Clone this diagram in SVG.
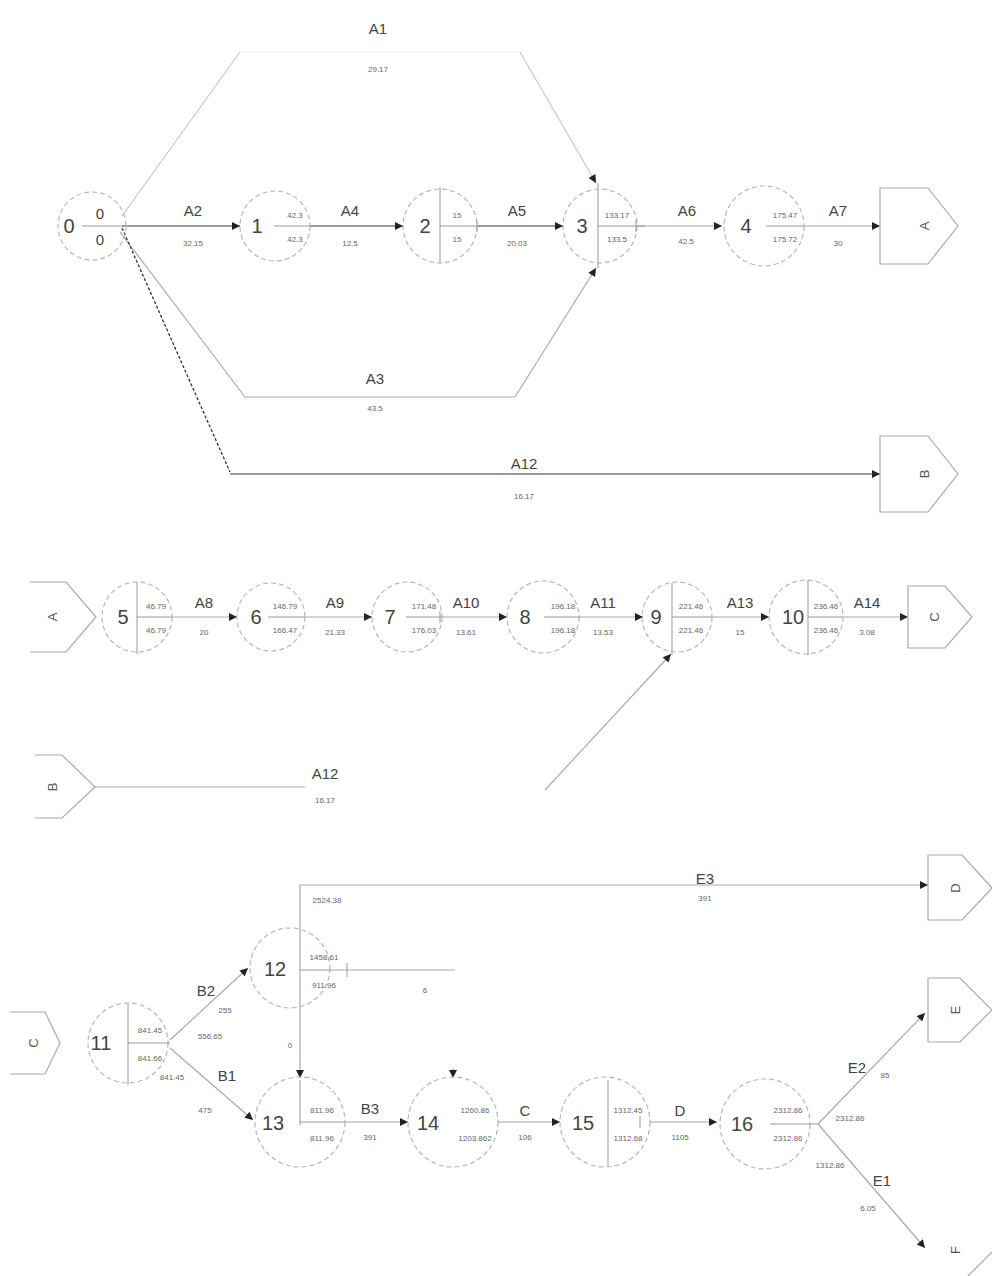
<svg xmlns="http://www.w3.org/2000/svg" width="992" height="1276" viewBox="0 0 992 1276">
<style>
text{font-family:"Liberation Sans",Arial,sans-serif;text-anchor:middle;}
.num{font-size:20px;fill:#444;}
.act{font-size:15px;fill:#444;}
.sm{font-size:8px;fill:#666;}
.circ{fill:none;stroke:#b8b8b8;stroke-width:1.2;stroke-dasharray:5 3;}
.div{fill:none;stroke:#999;stroke-width:1;}
.ln{fill:none;stroke:#aaa;stroke-width:1.2;}
.lnf{fill:none;stroke:#c8c8c8;stroke-width:1.2;}
.ln2{fill:none;stroke:#777;stroke-width:1.3;}
.conn{fill:#fff;stroke:#aaa;stroke-width:1.2;}
.ctxt{font-size:13px;fill:#555;}
</style>
<defs>
<marker id="ah" viewBox="0 0 10 10" refX="10" refY="5" markerWidth="10" markerHeight="8" markerUnits="userSpaceOnUse" orient="auto">
<path d="M0,0 L10,5 L0,10 Z" fill="#222"/>
</marker>
</defs>
<rect width="992" height="1276" fill="#fff"/>

<g id="connectors">
<!-- row 1 -->
<path class="lnf" d="M122,216 L240,52"/>
<path fill="none" stroke="#f0f0f0" stroke-width="1" d="M240,52 L520,52"/>
<path class="lnf" d="M520,52 L596,183" marker-end="url(#ah)"/>
<line class="ln2" x1="122" y1="226" x2="240" y2="226" marker-end="url(#ah)"/>
<path class="ln" d="M120,232 L245,397 L515,397 L596,268" marker-end="url(#ah)"/>
<path fill="none" stroke="#333" stroke-width="1.3" stroke-dasharray="3 2" d="M122,228 L230,472"/>
<line class="ln2" x1="230" y1="474" x2="880" y2="474" marker-end="url(#ah)"/>
<line class="ln2" x1="310" y1="226" x2="403" y2="226" marker-end="url(#ah)"/>
<line class="ln2" x1="478" y1="226" x2="563" y2="226" marker-end="url(#ah)"/>
<line class="ln" x1="637" y1="226" x2="722" y2="226" marker-end="url(#ah)"/>
<line class="ln" x1="805" y1="226" x2="880" y2="226" marker-end="url(#ah)"/>
<!-- row 2 -->
<line class="ln" x1="173" y1="617" x2="237" y2="617" marker-end="url(#ah)"/>
<line class="ln" x1="305" y1="617" x2="372" y2="617" marker-end="url(#ah)"/>
<line class="ln" x1="442" y1="617" x2="507" y2="617" marker-end="url(#ah)"/>
<line class="ln" x1="580" y1="617" x2="643" y2="617" marker-end="url(#ah)"/>
<line class="ln" x1="712" y1="617" x2="769" y2="617" marker-end="url(#ah)"/>
<line class="ln" x1="843" y1="617" x2="908" y2="617" marker-end="url(#ah)"/>
<line class="ln" x1="545" y1="790" x2="671" y2="654" marker-end="url(#ah)"/>
<!-- row 3 -->
<line class="ln" x1="95" y1="787" x2="305" y2="787"/>
<!-- row 4 -->
<line class="ln" x1="170" y1="1040" x2="248" y2="968" marker-end="url(#ah)"/>
<line class="ln" x1="170" y1="1048" x2="253" y2="1120" marker-end="url(#ah)"/>
<path class="ln" d="M300,1060 L300,885 L928,885" marker-end="url(#ah)"/>
<line class="ln" x1="300" y1="1060" x2="300" y2="1078" marker-end="url(#ah)"/>
<line class="ln" x1="453" y1="1068" x2="453" y2="1078" marker-end="url(#ah)"/>
<line class="ln" x1="330" y1="970" x2="455" y2="970"/>
<line class="ln" x1="345" y1="1122" x2="408" y2="1122" marker-end="url(#ah)"/>
<line class="ln" x1="498" y1="1122" x2="560" y2="1122" marker-end="url(#ah)"/>
<line class="ln" x1="650" y1="1122" x2="717" y2="1122" marker-end="url(#ah)"/>
<line class="ln" x1="818" y1="1124" x2="925" y2="1013" marker-end="url(#ah)"/>
<line class="ln" x1="818" y1="1124" x2="925" y2="1248" marker-end="url(#ah)"/>
</g>

<!-- activity labels -->
<g id="labels">
<text class="act" x="378" y="34">A1</text><text class="sm" x="378" y="72">29.17</text>
<text class="act" x="193" y="216">A2</text><text class="sm" x="193" y="246">32.15</text>
<text class="act" x="350" y="216">A4</text><text class="sm" x="350" y="246">12.5</text>
<text class="act" x="517" y="216">A5</text><text class="sm" x="517" y="246">20.03</text>
<text class="act" x="687" y="216">A6</text><text class="sm" x="686" y="244">42.5</text>
<text class="act" x="838" y="216">A7</text><text class="sm" x="838" y="246">30</text>
<text class="act" x="375" y="384">A3</text><text class="sm" x="375" y="411">43.5</text>
<text class="act" x="524" y="469">A12</text><text class="sm" x="524" y="499">16.17</text>
<text class="act" x="204" y="608">A8</text><text class="sm" x="204" y="635">20</text>
<text class="act" x="335" y="608">A9</text><text class="sm" x="335" y="635">21.33</text>
<text class="act" x="466" y="608">A10</text><text class="sm" x="466" y="635">13.61</text>
<text class="act" x="603" y="608">A11</text><text class="sm" x="603" y="635">13.53</text>
<text class="act" x="740" y="608">A13</text><text class="sm" x="740" y="635">15</text>
<text class="act" x="867" y="608">A14</text><text class="sm" x="867" y="635">3.08</text>
<text class="act" x="325" y="779">A12</text><text class="sm" x="325" y="803">16.17</text>
<text class="act" x="206" y="996">B2</text><text class="sm" x="225" y="1013">255</text><text class="sm" x="210" y="1039">556.65</text>
<text class="sm" x="172" y="1080">841.45</text><text class="act" x="227" y="1081">B1</text><text class="sm" x="205" y="1113">475</text>
<text class="sm" x="327" y="903">2524.38</text><text class="sm" x="425" y="993">6</text><text class="sm" x="290" y="1048">0</text>
<text class="act" x="705" y="884">E3</text><text class="sm" x="705" y="901">391</text>
<text class="act" x="370" y="1114">B3</text><text class="sm" x="370" y="1140">391</text>
<text class="act" x="525" y="1116">C</text><text class="sm" x="525" y="1140">106</text>
<text class="act" x="680" y="1116">D</text><text class="sm" x="680" y="1140">1105</text>
<text class="act" x="857" y="1073">E2</text><text class="sm" x="885" y="1078">85</text><text class="sm" x="850" y="1121">2312.86</text>
<text class="sm" x="830" y="1168">1312.86</text><text class="act" x="882" y="1186">E1</text><text class="sm" x="868" y="1211">6.05</text>
</g>

<!-- row 1 nodes -->
<g id="n0"><circle class="circ" cx="92" cy="226" r="34"/><line class="div" x1="82" y1="226" x2="122" y2="226"/><text class="num" x="69" y="233">0</text><text class="act" x="100" y="219">0</text><text class="act" x="100" y="245">0</text></g>
<g id="n1"><circle class="circ" cx="275" cy="226" r="35"/><line class="div" x1="274" y1="226" x2="310" y2="226"/><text class="num" x="257" y="233">1</text><text class="sm" x="295" y="218">42.3</text><text class="sm" x="295" y="242">42.3</text></g>
<g id="n2"><circle class="circ" cx="440" cy="226" r="37"/><line class="div" x1="440" y1="187" x2="440" y2="263"/><line class="div" x1="440" y1="226" x2="478" y2="226"/><line class="div" x1="477" y1="220" x2="477" y2="232"/><text class="num" x="425" y="233">2</text><text class="sm" x="457" y="218">15</text><text class="sm" x="457" y="242">15</text></g>
<g id="n3"><circle class="circ" cx="600" cy="226" r="37"/><line class="div" x1="598" y1="183" x2="598" y2="268"/><line class="div" x1="598" y1="226" x2="645" y2="226"/><line class="div" x1="636" y1="220" x2="636" y2="232"/><text class="num" x="582" y="233">3</text><text class="sm" x="617" y="218">133.17</text><text class="sm" x="617" y="242">133.5</text></g>
<g id="n4"><circle class="circ" cx="764" cy="226" r="40"/><line class="div" x1="766" y1="226" x2="805" y2="226"/><text class="num" x="746" y="233">4</text><text class="sm" x="785" y="218">175.47</text><text class="sm" x="785" y="242">175.72</text></g>
<g id="cA"><path class="conn" d="M880,188 L928,188 L958,226 L928,264 L880,264 Z"/><text class="ctxt" transform="translate(924,226) rotate(-90)" y="5">A</text></g>
<g id="cB"><path class="conn" d="M880,436 L928,436 L958,474 L928,512 L880,512 Z"/><text class="ctxt" transform="translate(924,474) rotate(-90)" y="5">B</text></g>

<!-- row 2 nodes -->
<g id="cAin"><path class="conn" fill="none" d="M30,582 L66,582 L96,617 L66,652 L30,652"/><text class="ctxt" transform="translate(52,617) rotate(-90)" y="5">A</text></g>
<g id="n5"><circle class="circ" cx="137" cy="617" r="35"/><line class="div" x1="137" y1="582" x2="137" y2="654"/><line class="div" x1="137" y1="617" x2="173" y2="617"/><text class="num" x="123" y="624">5</text><text class="sm" x="156" y="609">46.79</text><text class="sm" x="156" y="633">46.79</text></g>
<g id="n6"><circle class="circ" cx="271" cy="617" r="34"/><line class="div" x1="268" y1="617" x2="305" y2="617"/><text class="num" x="256" y="624">6</text><text class="sm" x="285" y="609">146.79</text><text class="sm" x="285" y="633">166.47</text></g>
<g id="n7"><circle class="circ" cx="407" cy="617" r="35"/><line class="div" x1="406" y1="617" x2="442" y2="617"/><line class="div" x1="440" y1="611" x2="440" y2="623"/><text class="num" x="390" y="624">7</text><text class="sm" x="424" y="609">171.48</text><text class="sm" x="424" y="633">176.03</text></g>
<g id="n8"><circle class="circ" cx="543" cy="617" r="36"/><line class="div" x1="544" y1="617" x2="580" y2="617"/><text class="num" x="525" y="624">8</text><text class="sm" x="563" y="609">196.18</text><text class="sm" x="563" y="633">196.18</text></g>
<g id="n9"><circle class="circ" cx="677" cy="617" r="35"/><line class="div" x1="672" y1="583" x2="672" y2="655"/><line class="div" x1="672" y1="617" x2="712" y2="617"/><text class="num" x="656" y="624">9</text><text class="sm" x="691" y="609">221.46</text><text class="sm" x="691" y="633">221.46</text></g>
<g id="n10"><circle class="circ" cx="806" cy="617" r="37"/><line class="div" x1="808" y1="580" x2="808" y2="655"/><line class="div" x1="808" y1="617" x2="843" y2="617"/><text class="num" x="793" y="624">10</text><text class="sm" x="826" y="609">236.46</text><text class="sm" x="826" y="633">236.46</text></g>
<g id="cC"><path class="conn" d="M908,586 L945,586 L972,617 L945,648 L908,648 Z"/><text class="ctxt" transform="translate(934,617) rotate(-90)" y="5">C</text></g>

<!-- row 3 -->
<g id="cBin"><path class="conn" fill="none" d="M35,755 L62,755 L95,787 L62,818 L35,818"/><text class="ctxt" transform="translate(52,787) rotate(-90)" y="5">B</text></g>

<!-- row 4 nodes -->
<g id="cCin"><path class="conn" fill="none" d="M10,1012 L45,1012 L60,1043 L45,1074 L10,1074"/><text class="ctxt" transform="translate(33,1043) rotate(-90)" y="5">C</text></g>
<g id="n11"><circle class="circ" cx="128" cy="1043" r="40"/><line class="div" x1="128" y1="1003" x2="128" y2="1085"/><line class="div" x1="128" y1="1043" x2="170" y2="1043"/><text class="num" x="101" y="1050">11</text><text class="sm" x="150" y="1033">841.45</text><text class="sm" x="150" y="1061">841.66</text></g>
<g id="n12"><circle class="circ" cx="290" cy="968" r="40"/><line class="div" x1="300" y1="970" x2="330" y2="970"/><line class="div" x1="347" y1="963" x2="347" y2="977"/><text class="num" x="275" y="976">12</text><text class="sm" x="324" y="960">1458.61</text><text class="sm" x="324" y="988">911.96</text></g>
<g id="n13"><circle class="circ" cx="300" cy="1122" r="45"/><line class="div" x1="300" y1="1080" x2="300" y2="1125"/><line class="div" x1="300" y1="1122" x2="345" y2="1122"/><text class="num" x="273" y="1130">13</text><text class="sm" x="322" y="1113">811.96</text><text class="sm" x="322" y="1141">811.96</text></g>
<g id="n14"><circle class="circ" cx="453" cy="1122" r="45"/><text class="num" x="428" y="1130">14</text><text class="sm" x="475" y="1113">1260.86</text><text class="sm" x="475" y="1141">1203.862</text></g>
<g id="n15"><circle class="circ" cx="605" cy="1122" r="45"/><line class="div" x1="608" y1="1080" x2="608" y2="1166"/><line class="div" x1="640" y1="1116" x2="640" y2="1128"/><text class="num" x="583" y="1130">15</text><text class="sm" x="628" y="1113">1312.45</text><text class="sm" x="628" y="1141">1312.68</text></g>
<g id="n16"><circle class="circ" cx="765" cy="1124" r="45"/><line class="div" x1="770" y1="1124" x2="818" y2="1124"/><text class="num" x="742" y="1131">16</text><text class="sm" x="788" y="1113">2312.86</text><text class="sm" x="788" y="1141">2312.86</text></g>
<g id="cD"><path class="conn" d="M928,855 L962,855 L992,888 L962,920 L928,920 Z"/><text class="ctxt" transform="translate(955,888) rotate(-90)" y="5">D</text></g>
<g id="cE"><path class="conn" d="M928,978 L960,978 L992,1010 L960,1042 L928,1042 Z"/><text class="ctxt" transform="translate(955,1010) rotate(-90)" y="5">E</text></g>
<g id="cF"><path class="conn" fill="none" d="M968,1276 L992,1252"/><text class="ctxt" transform="translate(955,1250) rotate(-90)" y="5">F</text></g>
</svg>
